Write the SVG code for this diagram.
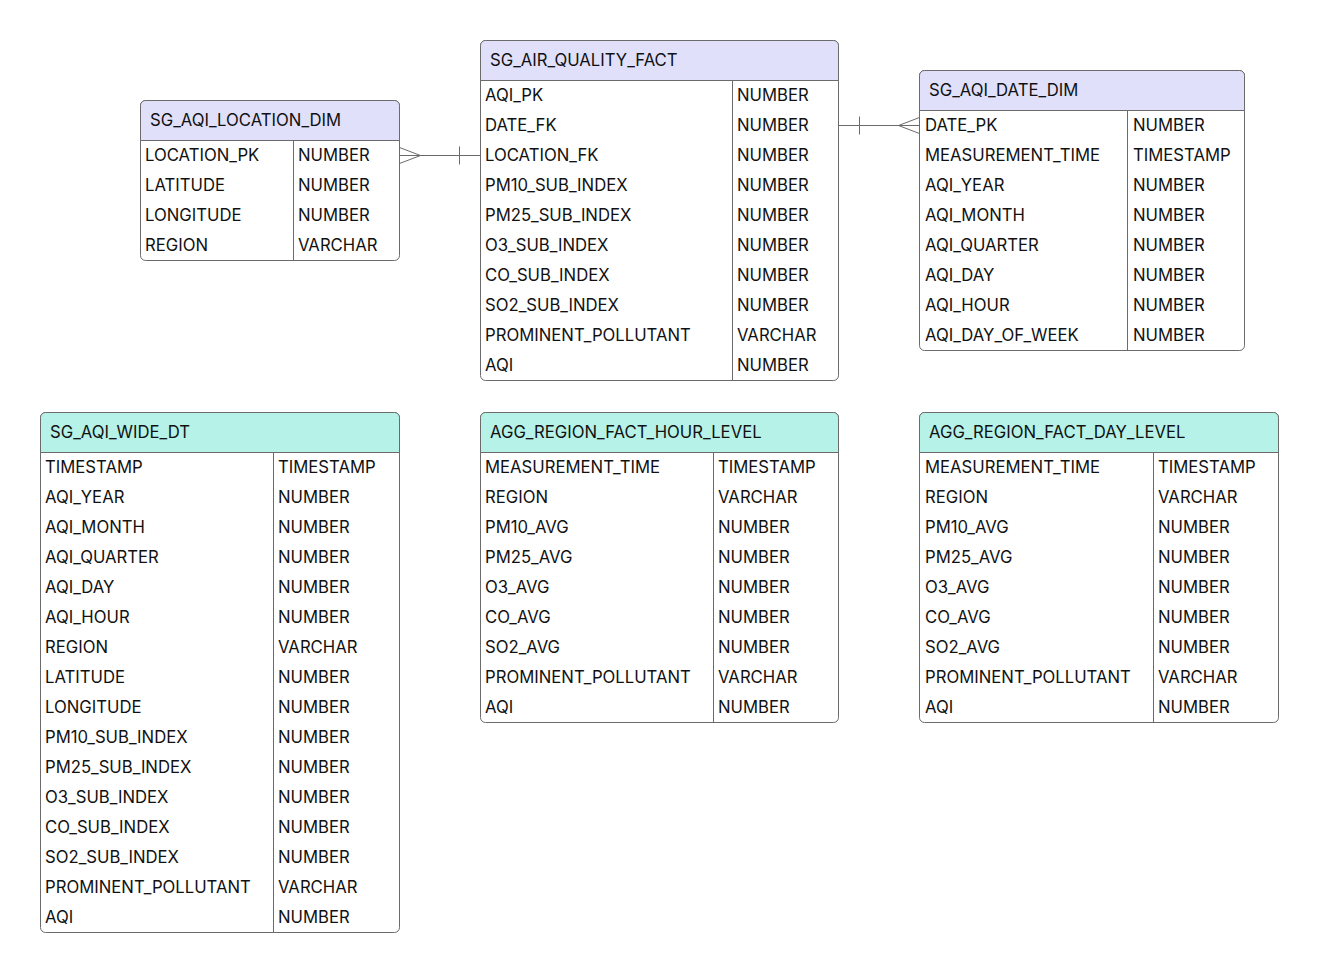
<svg xmlns="http://www.w3.org/2000/svg" width="1319" height="972" viewBox="0 0 1319 972">
  <style>
    .box { fill: #ffffff; stroke: #6b6b6b; stroke-width: 1; }
    .hdr-dim { fill: #e0e0fb; stroke: #6b6b6b; stroke-width: 1; }
    .hdr-agg { fill: #b6f2e8; stroke: #6b6b6b; stroke-width: 1; }
    .sep { stroke: #6b6b6b; stroke-width: 1; fill: none; }
    .t { font-family: Inter, "Liberation Sans", sans-serif; font-size: 16.7px; fill: #111111; dominant-baseline: central; }
    .conn { stroke: #6b6b6b; stroke-width: 1; fill: none; }
  </style>
  <rect width="1319" height="972" fill="#ffffff"/>

  <!-- SG_AQI_LOCATION_DIM -->
  <g id="sg_aqi_location_dim">
    <rect class="box" x="140.5" y="100.5" width="259" height="160" rx="5"/>
    <path class="hdr-dim" d="M140.5 140.5 V105.5 a5 5 0 0 1 5 -5 H394.5 a5 5 0 0 1 5 5 V140.5 Z"/>
    <line class="sep" x1="293.5" y1="140.5" x2="293.5" y2="260.5"/>
    <text class="t" x="150" y="120">SG_AQI_LOCATION_DIM</text>
    <text class="t" x="145" y="155">LOCATION_PK</text><text class="t" x="298" y="155">NUMBER</text>
    <text class="t" x="145" y="185">LATITUDE</text><text class="t" x="298" y="185">NUMBER</text>
    <text class="t" x="145" y="215">LONGITUDE</text><text class="t" x="298" y="215">NUMBER</text>
    <text class="t" x="145" y="245">REGION</text><text class="t" x="298" y="245">VARCHAR</text>
  </g>

  <!-- SG_AIR_QUALITY_FACT -->
  <g id="sg_air_quality_fact">
    <rect class="box" x="480.5" y="40.5" width="358" height="340" rx="5"/>
    <path class="hdr-dim" d="M480.5 80.5 V45.5 a5 5 0 0 1 5 -5 H833.5 a5 5 0 0 1 5 5 V80.5 Z"/>
    <line class="sep" x1="732.5" y1="80.5" x2="732.5" y2="380.5"/>
    <text class="t" x="490" y="60">SG_AIR_QUALITY_FACT</text>
    <text class="t" x="485" y="95">AQI_PK</text><text class="t" x="737" y="95">NUMBER</text>
    <text class="t" x="485" y="125">DATE_FK</text><text class="t" x="737" y="125">NUMBER</text>
    <text class="t" x="485" y="155">LOCATION_FK</text><text class="t" x="737" y="155">NUMBER</text>
    <text class="t" x="485" y="185">PM10_SUB_INDEX</text><text class="t" x="737" y="185">NUMBER</text>
    <text class="t" x="485" y="215">PM25_SUB_INDEX</text><text class="t" x="737" y="215">NUMBER</text>
    <text class="t" x="485" y="245">O3_SUB_INDEX</text><text class="t" x="737" y="245">NUMBER</text>
    <text class="t" x="485" y="275">CO_SUB_INDEX</text><text class="t" x="737" y="275">NUMBER</text>
    <text class="t" x="485" y="305">SO2_SUB_INDEX</text><text class="t" x="737" y="305">NUMBER</text>
    <text class="t" x="485" y="335">PROMINENT_POLLUTANT</text><text class="t" x="737" y="335">VARCHAR</text>
    <text class="t" x="485" y="365">AQI</text><text class="t" x="737" y="365">NUMBER</text>
  </g>

  <!-- SG_AQI_DATE_DIM -->
  <g id="sg_aqi_date_dim">
    <rect class="box" x="919.5" y="70.5" width="325" height="280" rx="5"/>
    <path class="hdr-dim" d="M919.5 110.5 V75.5 a5 5 0 0 1 5 -5 H1239.5 a5 5 0 0 1 5 5 V110.5 Z"/>
    <line class="sep" x1="1127.5" y1="110.5" x2="1127.5" y2="350.5"/>
    <text class="t" x="929" y="90">SG_AQI_DATE_DIM</text>
    <text class="t" x="925" y="125">DATE_PK</text><text class="t" x="1133" y="125">NUMBER</text>
    <text class="t" x="925" y="155">MEASUREMENT_TIME</text><text class="t" x="1133" y="155">TIMESTAMP</text>
    <text class="t" x="925" y="185">AQI_YEAR</text><text class="t" x="1133" y="185">NUMBER</text>
    <text class="t" x="925" y="215">AQI_MONTH</text><text class="t" x="1133" y="215">NUMBER</text>
    <text class="t" x="925" y="245">AQI_QUARTER</text><text class="t" x="1133" y="245">NUMBER</text>
    <text class="t" x="925" y="275">AQI_DAY</text><text class="t" x="1133" y="275">NUMBER</text>
    <text class="t" x="925" y="305">AQI_HOUR</text><text class="t" x="1133" y="305">NUMBER</text>
    <text class="t" x="925" y="335">AQI_DAY_OF_WEEK</text><text class="t" x="1133" y="335">NUMBER</text>
  </g>

  <!-- SG_AQI_WIDE_DT -->
  <g id="sg_aqi_wide_dt">
    <rect class="box" x="40.5" y="412.5" width="359" height="520" rx="5"/>
    <path class="hdr-agg" d="M40.5 452.5 V417.5 a5 5 0 0 1 5 -5 H394.5 a5 5 0 0 1 5 5 V452.5 Z"/>
    <line class="sep" x1="273.5" y1="452.5" x2="273.5" y2="932.5"/>
    <text class="t" x="50" y="432">SG_AQI_WIDE_DT</text>
    <text class="t" x="45" y="467">TIMESTAMP</text><text class="t" x="278" y="467">TIMESTAMP</text>
    <text class="t" x="45" y="497">AQI_YEAR</text><text class="t" x="278" y="497">NUMBER</text>
    <text class="t" x="45" y="527">AQI_MONTH</text><text class="t" x="278" y="527">NUMBER</text>
    <text class="t" x="45" y="557">AQI_QUARTER</text><text class="t" x="278" y="557">NUMBER</text>
    <text class="t" x="45" y="587">AQI_DAY</text><text class="t" x="278" y="587">NUMBER</text>
    <text class="t" x="45" y="617">AQI_HOUR</text><text class="t" x="278" y="617">NUMBER</text>
    <text class="t" x="45" y="647">REGION</text><text class="t" x="278" y="647">VARCHAR</text>
    <text class="t" x="45" y="677">LATITUDE</text><text class="t" x="278" y="677">NUMBER</text>
    <text class="t" x="45" y="707">LONGITUDE</text><text class="t" x="278" y="707">NUMBER</text>
    <text class="t" x="45" y="737">PM10_SUB_INDEX</text><text class="t" x="278" y="737">NUMBER</text>
    <text class="t" x="45" y="767">PM25_SUB_INDEX</text><text class="t" x="278" y="767">NUMBER</text>
    <text class="t" x="45" y="797">O3_SUB_INDEX</text><text class="t" x="278" y="797">NUMBER</text>
    <text class="t" x="45" y="827">CO_SUB_INDEX</text><text class="t" x="278" y="827">NUMBER</text>
    <text class="t" x="45" y="857">SO2_SUB_INDEX</text><text class="t" x="278" y="857">NUMBER</text>
    <text class="t" x="45" y="887">PROMINENT_POLLUTANT</text><text class="t" x="278" y="887">VARCHAR</text>
    <text class="t" x="45" y="917">AQI</text><text class="t" x="278" y="917">NUMBER</text>
  </g>

  <!-- AGG_REGION_FACT_HOUR_LEVEL -->
  <g id="agg_region_fact_hour_level">
    <rect class="box" x="480.5" y="412.5" width="358" height="310" rx="5"/>
    <path class="hdr-agg" d="M480.5 452.5 V417.5 a5 5 0 0 1 5 -5 H833.5 a5 5 0 0 1 5 5 V452.5 Z"/>
    <line class="sep" x1="713.5" y1="452.5" x2="713.5" y2="722.5"/>
    <text class="t" x="490" y="432">AGG_REGION_FACT_HOUR_LEVEL</text>
    <text class="t" x="485" y="467">MEASUREMENT_TIME</text><text class="t" x="718" y="467">TIMESTAMP</text>
    <text class="t" x="485" y="497">REGION</text><text class="t" x="718" y="497">VARCHAR</text>
    <text class="t" x="485" y="527">PM10_AVG</text><text class="t" x="718" y="527">NUMBER</text>
    <text class="t" x="485" y="557">PM25_AVG</text><text class="t" x="718" y="557">NUMBER</text>
    <text class="t" x="485" y="587">O3_AVG</text><text class="t" x="718" y="587">NUMBER</text>
    <text class="t" x="485" y="617">CO_AVG</text><text class="t" x="718" y="617">NUMBER</text>
    <text class="t" x="485" y="647">SO2_AVG</text><text class="t" x="718" y="647">NUMBER</text>
    <text class="t" x="485" y="677">PROMINENT_POLLUTANT</text><text class="t" x="718" y="677">VARCHAR</text>
    <text class="t" x="485" y="707">AQI</text><text class="t" x="718" y="707">NUMBER</text>
  </g>

  <!-- AGG_REGION_FACT_DAY_LEVEL -->
  <g id="agg_region_fact_day_level">
    <rect class="box" x="919.5" y="412.5" width="359" height="310" rx="5"/>
    <path class="hdr-agg" d="M919.5 452.5 V417.5 a5 5 0 0 1 5 -5 H1273.5 a5 5 0 0 1 5 5 V452.5 Z"/>
    <line class="sep" x1="1153.5" y1="452.5" x2="1153.5" y2="722.5"/>
    <text class="t" x="929" y="432">AGG_REGION_FACT_DAY_LEVEL</text>
    <text class="t" x="925" y="467">MEASUREMENT_TIME</text><text class="t" x="1158" y="467">TIMESTAMP</text>
    <text class="t" x="925" y="497">REGION</text><text class="t" x="1158" y="497">VARCHAR</text>
    <text class="t" x="925" y="527">PM10_AVG</text><text class="t" x="1158" y="527">NUMBER</text>
    <text class="t" x="925" y="557">PM25_AVG</text><text class="t" x="1158" y="557">NUMBER</text>
    <text class="t" x="925" y="587">O3_AVG</text><text class="t" x="1158" y="587">NUMBER</text>
    <text class="t" x="925" y="617">CO_AVG</text><text class="t" x="1158" y="617">NUMBER</text>
    <text class="t" x="925" y="647">SO2_AVG</text><text class="t" x="1158" y="647">NUMBER</text>
    <text class="t" x="925" y="677">PROMINENT_POLLUTANT</text><text class="t" x="1158" y="677">VARCHAR</text>
    <text class="t" x="925" y="707">AQI</text><text class="t" x="1158" y="707">NUMBER</text>
  </g>

  <!-- relationships: many-to-one, crow's foot on the many side -->
  <g id="connectors">
    <!-- location dim (many) to fact LOCATION_FK (one) -->
    <path class="conn" d="M399.5 155.5 H480.5"/>
    <path class="conn" d="M399.5 147.5 L420.5 155.5 L399.5 163.5"/>
    <path class="conn" d="M459.5 146.5 V164.5"/>
    <!-- fact DATE_FK (one) to date dim (many) -->
    <path class="conn" d="M838.5 125.5 H919.5"/>
    <path class="conn" d="M859.5 116.5 V134.5"/>
    <path class="conn" d="M919.5 117.5 L898.5 125.5 L919.5 133.5"/>
  </g>
</svg>
